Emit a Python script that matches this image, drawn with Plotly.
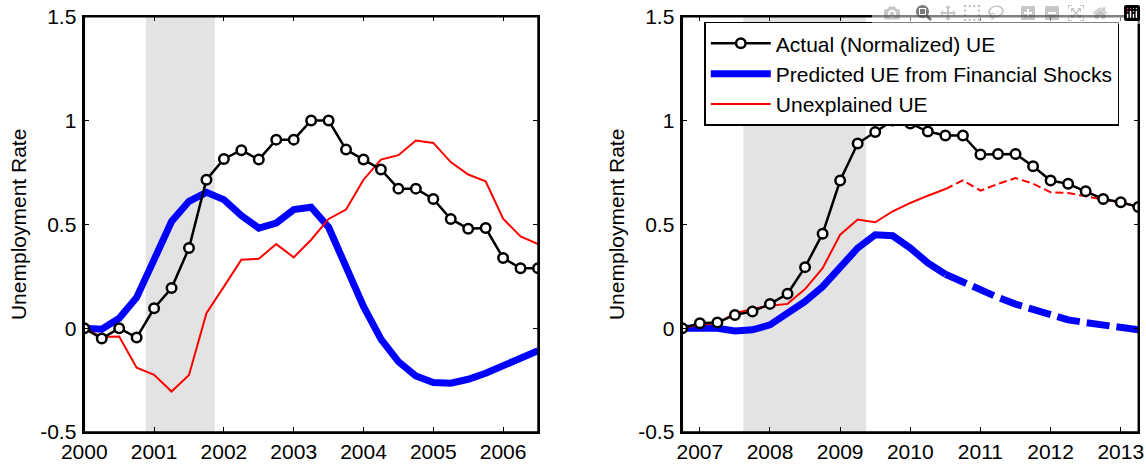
import plotly.graph_objects as go

# ---------------- data ----------------
left_start = 2000.0
left_actual = [0.0, -0.05, 0.0, -0.045, 0.096, 0.193, 0.386, 0.715, 0.815, 0.857,
               0.812, 0.908, 0.908, 1.0, 1.0, 0.86, 0.812, 0.764, 0.672, 0.672,
               0.622, 0.526, 0.479, 0.482, 0.338, 0.289, 0.289]
left_pred = [0.0, -0.005, 0.048, 0.148, 0.33, 0.514, 0.611, 0.654, 0.619, 0.542,
             0.482, 0.506, 0.571, 0.582, 0.486, 0.297, 0.105, -0.053, -0.161, -0.23,
             -0.262, -0.265, -0.246, -0.217, -0.177, -0.145, -0.109]
left_unexp = [0.0, -0.043, -0.04, -0.19, -0.225, -0.305, -0.225, 0.072, 0.2, 0.33,
              0.334, 0.405, 0.341, 0.426, 0.526, 0.571, 0.715, 0.812, 0.833, 0.904,
              0.892, 0.8, 0.74, 0.707, 0.527, 0.442, 0.405]
left_recession = [2000.88, 2001.87]
left_ticks = [2000, 2001, 2002, 2003, 2004, 2005, 2006]
left_range = [2000.0, 2006.5]

right_start = 2006.75
right_actual = [0.0, 0.024, 0.027, 0.064, 0.08, 0.117, 0.166, 0.294, 0.455, 0.711,
                0.889, 0.945, 1.0, 0.986, 0.947, 0.928, 0.928, 0.836, 0.839, 0.839,
                0.78, 0.711, 0.695, 0.659, 0.622, 0.606, 0.584]
right_pred = [0.0, 0.0, 0.0, -0.013, -0.008, 0.016, 0.072, 0.129, 0.2, 0.297,
              0.386, 0.45, 0.445, 0.386, 0.314, 0.26, 0.22, 0.185, 0.148, 0.116,
              0.088, 0.064, 0.04, 0.027, 0.016, 0.005, -0.008]
right_unexp = [0.0, 0.016, 0.024, 0.072, 0.092, 0.108, 0.117, 0.188, 0.289, 0.45,
               0.523, 0.51, 0.563, 0.603, 0.638, 0.67, 0.712, 0.662, 0.695, 0.723,
               0.696, 0.654, 0.651, 0.635, 0.619, 0.606, 0.587]
right_dash_from = 2010.5
right_recession = [2007.62, 2009.37]
right_ticks = [2007, 2008, 2009, 2010, 2011, 2012, 2013]
right_range = [2006.75, 2013.25]

y_ticks = [-0.5, 0, 0.5, 1, 1.5]
y_ticklabels = ["-0.5", "0", "0.5", "1", "1.5"]
y_range = [-0.5, 1.5]

names = ["Actual (Normalized) UE", "Predicted UE from Financial Shocks", "Unexplained UE"]
y_title = "Unemployment Rate"

# ---------------- figure ----------------
# The page body margin is removed after plotting, so the figure fills the window.
W, H = 1146, 464
FONT = "Liberation Sans, Arial, sans-serif"
FS = 21
BLUE = "#0000ff"
RED = "#ff0000"

def px_x(p):
    return p / W

def px_y(p):
    return 1 - p / H

def qx(start, n):
    return [start + i / 4 for i in range(n)]

fig = go.Figure()

def add_panel(xs, actual, pred, unexp, xa, ya, showlegend, dash_from=None):
    if dash_from is None:
        fig.add_trace(go.Scatter(x=xs, y=pred, mode="lines", name=names[1],
                                 line=dict(color=BLUE, width=7), xaxis=xa, yaxis=ya,
                                 showlegend=showlegend, legendrank=2))
        fig.add_trace(go.Scatter(x=xs, y=unexp, mode="lines", name=names[2],
                                 line=dict(color=RED, width=2), xaxis=xa, yaxis=ya,
                                 showlegend=showlegend, legendrank=3))
    else:
        k = [i for i, v in enumerate(xs) if v <= dash_from][-1]
        fig.add_trace(go.Scatter(x=xs[:k + 1], y=pred[:k + 1], mode="lines", name=names[1],
                                 line=dict(color=BLUE, width=7), xaxis=xa, yaxis=ya,
                                 showlegend=showlegend, legendrank=2))
        fig.add_trace(go.Scatter(x=xs[k:], y=pred[k:], mode="lines", name=names[1],
                                 line=dict(color=BLUE, width=7, dash="23px,7px"),
                                 xaxis=xa, yaxis=ya, showlegend=False))
        fig.add_trace(go.Scatter(x=xs[:k + 1], y=unexp[:k + 1], mode="lines", name=names[2],
                                 line=dict(color=RED, width=2), xaxis=xa, yaxis=ya,
                                 showlegend=showlegend, legendrank=3))
        fig.add_trace(go.Scatter(x=xs[k:], y=unexp[k:], mode="lines", name=names[2],
                                 line=dict(color=RED, width=2, dash="8px,4px"),
                                 xaxis=xa, yaxis=ya, showlegend=False))
    fig.add_trace(go.Scatter(x=xs, y=actual, mode="lines+markers", name=names[0],
                             line=dict(color="black", width=2.5),
                             marker=dict(symbol="circle", size=9.5, color="white",
                                         line=dict(color="black", width=2.5)),
                             xaxis=xa, yaxis=ya, showlegend=showlegend, legendrank=1))

xl = qx(left_start, len(left_actual))
xr = qx(right_start, len(right_actual))
add_panel(xl, left_actual, left_pred, left_unexp, "x", "y", False)
add_panel(xr, right_actual, right_pred, right_unexp, "x2", "y2", True, right_dash_from)

for xref, yref, rec in [("x", "y", left_recession), ("x2", "y2", right_recession)]:
    fig.add_shape(type="rect", xref=xref, yref=yref, x0=rec[0], x1=rec[1],
                  y0=y_range[0], y1=y_range[1], fillcolor="#e3e3e3",
                  line=dict(width=0), layer="below")

ydom = [px_y(432), px_y(16.7)]
xdom1 = [px_x(84.3), px_x(538)]
xdom2 = [px_x(682.3), px_x(1138.3)]

# panel frames (paper coordinates)
for xd in (xdom1, xdom2):
    fig.add_shape(type="rect", xref="paper", yref="paper", x0=xd[0], x1=xd[1],
                  y0=ydom[0], y1=ydom[1], line=dict(color="black", width=1.5),
                  fillcolor="rgba(0,0,0,0)", layer="above")

axis_common = dict(showline=True, linecolor="black", linewidth=1.5, mirror="allticks",
                   ticks="inside", ticklen=5, tickwidth=1, tickcolor="black",
                   showgrid=False, zeroline=False, automargin=False,
                   ticklabeloverflow="allow",
                   tickfont=dict(family=FONT, size=FS, color="black"))

fig.update_layout(
    width=W, height=H,
    margin=dict(l=0, r=0, t=0, b=0, autoexpand=False),
    paper_bgcolor="white", plot_bgcolor="white",
    font=dict(family=FONT, size=FS, color="black"),
    xaxis=dict(domain=xdom1, range=left_range, tickvals=left_ticks,
               anchor="y", ticklabelstandoff=0, **axis_common),
    yaxis=dict(domain=ydom, range=y_range, tickvals=y_ticks, ticktext=y_ticklabels,
               anchor="x", ticklabelstandoff=2, **axis_common,
               title=dict(text=y_title, font=dict(family=FONT, size=FS), standoff=8)),
    xaxis2=dict(domain=xdom2, range=right_range, tickvals=right_ticks,
                anchor="y2", ticklabelstandoff=0, **axis_common),
    yaxis2=dict(domain=ydom, range=y_range, tickvals=y_ticks, ticktext=y_ticklabels,
                anchor="x2", ticklabelstandoff=2, **axis_common,
                title=dict(text=y_title, font=dict(family=FONT, size=FS), standoff=8)),
    legend=dict(x=px_x(704.3), y=px_y(21.7), xanchor="left", yanchor="top",
                bgcolor="white", bordercolor="black", borderwidth=1.5,
                font=dict(family=FONT, size=FS, color="black"),
                tracegroupgap=0, itemwidth=60),
    showlegend=True,
)

fig.write_html("out.html",
               post_script="document.body.style.margin='0px';"
                           "document.body.style.overflow='hidden';")
